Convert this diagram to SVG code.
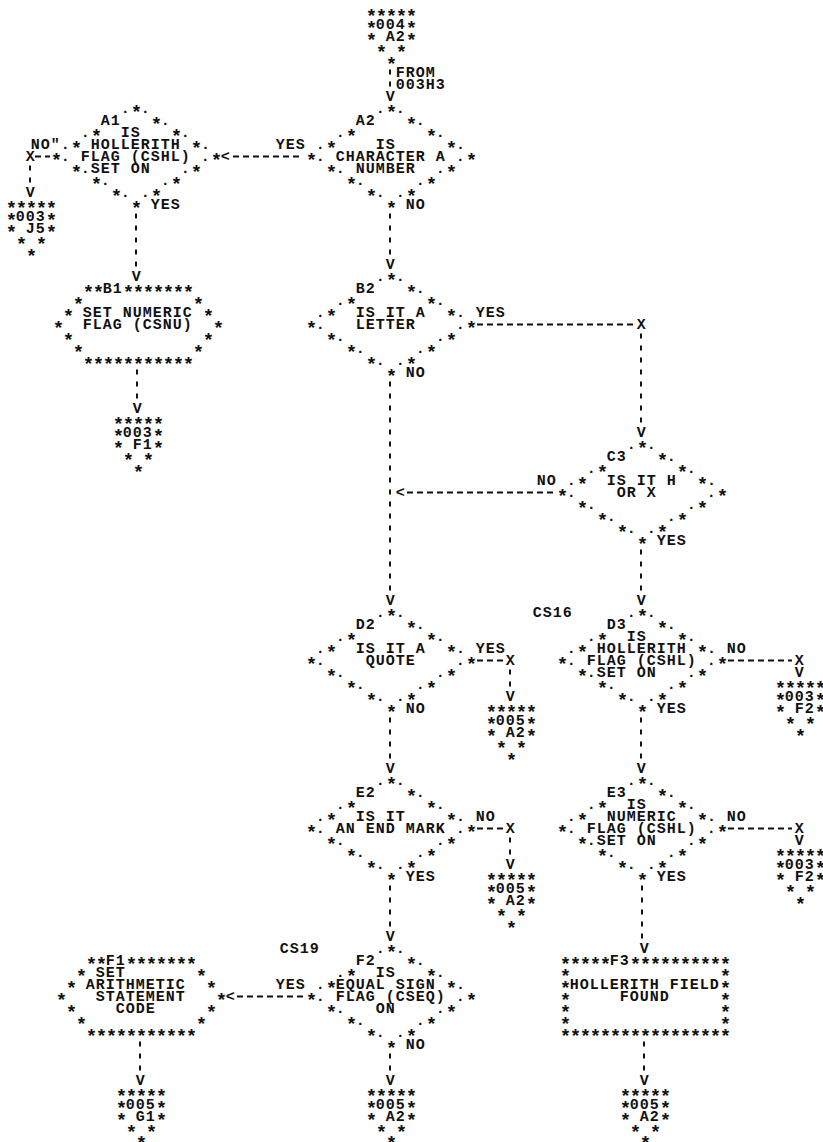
<svg xmlns="http://www.w3.org/2000/svg" width="823" height="1142" viewBox="0 0 823 1142">
<style>
text{font-family:"Liberation Mono","DejaVu Sans Mono",monospace;font-size:15px;font-weight:bold;letter-spacing:1px;fill:#111;white-space:pre}
.s{font-size:19px;letter-spacing:-1.4px;baseline-shift:-5px}
.k{stroke:#111;stroke-width:2;fill:none}
.v{stroke-dasharray:5 7}
.h{stroke-dasharray:6 4}
</style>
<rect width="823" height="1142" fill="#fff"/>
<g id="conn-004-A2">
<text x="365.8" y="17"><tspan class="s">*****</tspan></text>
<text x="365.8" y="29"><tspan class="s">*</tspan>004<tspan class="s">*</tspan></text>
<text x="365.8" y="41"><tspan class="s">*</tspan>&#160;A2<tspan class="s">*</tspan></text>
<text x="365.8" y="53">&#160;<tspan class="s">*</tspan>&#160;<tspan class="s">*</tspan></text>
<text x="365.8" y="65">&#160;&#160;<tspan class="s">*</tspan></text>
</g>
<g id="A1">
<text x="50.8" y="113">&#160;&#160;&#160;&#160;&#160;&#160;&#160;.<tspan class="s">*</tspan>.</text>
<text x="50.8" y="125">&#160;&#160;&#160;&#160;&#160;A1&#160;&#160;&#160;<tspan class="s">*</tspan>.</text>
<text x="50.8" y="137">&#160;&#160;&#160;.<tspan class="s">*</tspan>&#160;&#160;IS&#160;&#160;&#160;<tspan class="s">*</tspan>.</text>
<text x="50.8" y="149">&#160;.<tspan class="s">*</tspan>&#160;HOLLERITH&#160;<tspan class="s">*</tspan>.</text>
<text x="50.8" y="161"><tspan class="s">*</tspan>.&#160;FLAG&#160;(CSHL)&#160;.<tspan class="s">*</tspan></text>
<text x="50.8" y="173">&#160;&#160;<tspan class="s">*</tspan>.SET&#160;ON&#160;&#160;&#160;.<tspan class="s">*</tspan></text>
<text x="50.8" y="185">&#160;&#160;&#160;&#160;<tspan class="s">*</tspan>.&#160;&#160;&#160;&#160;&#160;.<tspan class="s">*</tspan></text>
<text x="50.8" y="197">&#160;&#160;&#160;&#160;&#160;&#160;<tspan class="s">*</tspan>.&#160;.<tspan class="s">*</tspan></text>
<text x="50.8" y="209">&#160;&#160;&#160;&#160;&#160;&#160;&#160;&#160;<tspan class="s">*</tspan></text>
</g>
<g id="conn-003-J5">
<text x="5.8" y="209"><tspan class="s">*****</tspan></text>
<text x="5.8" y="221"><tspan class="s">*</tspan>003<tspan class="s">*</tspan></text>
<text x="5.8" y="233"><tspan class="s">*</tspan>&#160;J5<tspan class="s">*</tspan></text>
<text x="5.8" y="245">&#160;<tspan class="s">*</tspan>&#160;<tspan class="s">*</tspan></text>
<text x="5.8" y="257">&#160;&#160;<tspan class="s">*</tspan></text>
</g>
<g id="A2">
<text x="305.8" y="113">&#160;&#160;&#160;&#160;&#160;&#160;&#160;.<tspan class="s">*</tspan>.</text>
<text x="305.8" y="125">&#160;&#160;&#160;&#160;&#160;A2&#160;&#160;&#160;<tspan class="s">*</tspan>.</text>
<text x="305.8" y="137">&#160;&#160;&#160;.<tspan class="s">*</tspan>&#160;&#160;&#160;&#160;&#160;&#160;&#160;<tspan class="s">*</tspan>.</text>
<text x="305.8" y="149">&#160;.<tspan class="s">*</tspan>&#160;&#160;&#160;&#160;IS&#160;&#160;&#160;&#160;&#160;<tspan class="s">*</tspan>.</text>
<text x="305.8" y="161"><tspan class="s">*</tspan>.&#160;CHARACTER&#160;A&#160;.<tspan class="s">*</tspan></text>
<text x="305.8" y="173">&#160;&#160;<tspan class="s">*</tspan>.&#160;NUMBER&#160;&#160;.<tspan class="s">*</tspan></text>
<text x="305.8" y="185">&#160;&#160;&#160;&#160;<tspan class="s">*</tspan>.&#160;&#160;&#160;&#160;&#160;.<tspan class="s">*</tspan></text>
<text x="305.8" y="197">&#160;&#160;&#160;&#160;&#160;&#160;<tspan class="s">*</tspan>.&#160;.<tspan class="s">*</tspan></text>
<text x="305.8" y="209">&#160;&#160;&#160;&#160;&#160;&#160;&#160;&#160;<tspan class="s">*</tspan></text>
</g>
<g id="B1">
<text x="52.8" y="293">&#160;&#160;&#160;<tspan class="s">**</tspan>B1<tspan class="s">*******</tspan></text>
<text x="52.8" y="305">&#160;&#160;<tspan class="s">*</tspan>&#160;&#160;&#160;&#160;&#160;&#160;&#160;&#160;&#160;&#160;&#160;<tspan class="s">*</tspan></text>
<text x="52.8" y="317">&#160;<tspan class="s">*</tspan>&#160;SET&#160;NUMERIC&#160;<tspan class="s">*</tspan></text>
<text x="52.8" y="329"><tspan class="s">*</tspan>&#160;&#160;FLAG&#160;(CSNU)&#160;&#160;<tspan class="s">*</tspan></text>
<text x="52.8" y="341">&#160;<tspan class="s">*</tspan>&#160;&#160;&#160;&#160;&#160;&#160;&#160;&#160;&#160;&#160;&#160;&#160;&#160;<tspan class="s">*</tspan></text>
<text x="52.8" y="353">&#160;&#160;<tspan class="s">*</tspan>&#160;&#160;&#160;&#160;&#160;&#160;&#160;&#160;&#160;&#160;&#160;<tspan class="s">*</tspan></text>
<text x="52.8" y="365">&#160;&#160;&#160;<tspan class="s">***********</tspan></text>
</g>
<g id="conn-003-F1">
<text x="112.8" y="425"><tspan class="s">*****</tspan></text>
<text x="112.8" y="437"><tspan class="s">*</tspan>003<tspan class="s">*</tspan></text>
<text x="112.8" y="449"><tspan class="s">*</tspan>&#160;F1<tspan class="s">*</tspan></text>
<text x="112.8" y="461">&#160;<tspan class="s">*</tspan>&#160;<tspan class="s">*</tspan></text>
<text x="112.8" y="473">&#160;&#160;<tspan class="s">*</tspan></text>
</g>
<g id="B2">
<text x="305.8" y="281">&#160;&#160;&#160;&#160;&#160;&#160;&#160;.<tspan class="s">*</tspan>.</text>
<text x="305.8" y="293">&#160;&#160;&#160;&#160;&#160;B2&#160;&#160;&#160;<tspan class="s">*</tspan>.</text>
<text x="305.8" y="305">&#160;&#160;&#160;.<tspan class="s">*</tspan>&#160;&#160;&#160;&#160;&#160;&#160;&#160;<tspan class="s">*</tspan>.</text>
<text x="305.8" y="317">&#160;.<tspan class="s">*</tspan>&#160;&#160;IS&#160;IT&#160;A&#160;&#160;<tspan class="s">*</tspan>.</text>
<text x="305.8" y="329"><tspan class="s">*</tspan>.&#160;&#160;&#160;LETTER&#160;&#160;&#160;&#160;.<tspan class="s">*</tspan></text>
<text x="305.8" y="341">&#160;&#160;<tspan class="s">*</tspan>.&#160;&#160;&#160;&#160;&#160;&#160;&#160;&#160;&#160;.<tspan class="s">*</tspan></text>
<text x="305.8" y="353">&#160;&#160;&#160;&#160;<tspan class="s">*</tspan>.&#160;&#160;&#160;&#160;&#160;.<tspan class="s">*</tspan></text>
<text x="305.8" y="365">&#160;&#160;&#160;&#160;&#160;&#160;<tspan class="s">*</tspan>.&#160;.<tspan class="s">*</tspan></text>
<text x="305.8" y="377">&#160;&#160;&#160;&#160;&#160;&#160;&#160;&#160;<tspan class="s">*</tspan></text>
</g>
<g id="C3">
<text x="556.8" y="449">&#160;&#160;&#160;&#160;&#160;&#160;&#160;.<tspan class="s">*</tspan>.</text>
<text x="556.8" y="461">&#160;&#160;&#160;&#160;&#160;C3&#160;&#160;&#160;<tspan class="s">*</tspan>.</text>
<text x="556.8" y="473">&#160;&#160;&#160;.<tspan class="s">*</tspan>&#160;&#160;&#160;&#160;&#160;&#160;&#160;<tspan class="s">*</tspan>.</text>
<text x="556.8" y="485">&#160;.<tspan class="s">*</tspan>&#160;&#160;IS&#160;IT&#160;H&#160;&#160;<tspan class="s">*</tspan>.</text>
<text x="556.8" y="497"><tspan class="s">*</tspan>.&#160;&#160;&#160;&#160;OR&#160;X&#160;&#160;&#160;&#160;&#160;.<tspan class="s">*</tspan></text>
<text x="556.8" y="509">&#160;&#160;<tspan class="s">*</tspan>.&#160;&#160;&#160;&#160;&#160;&#160;&#160;&#160;&#160;.<tspan class="s">*</tspan></text>
<text x="556.8" y="521">&#160;&#160;&#160;&#160;<tspan class="s">*</tspan>.&#160;&#160;&#160;&#160;&#160;.<tspan class="s">*</tspan></text>
<text x="556.8" y="533">&#160;&#160;&#160;&#160;&#160;&#160;<tspan class="s">*</tspan>.&#160;.<tspan class="s">*</tspan></text>
<text x="556.8" y="545">&#160;&#160;&#160;&#160;&#160;&#160;&#160;&#160;<tspan class="s">*</tspan></text>
</g>
<g id="D2">
<text x="305.8" y="617">&#160;&#160;&#160;&#160;&#160;&#160;&#160;.<tspan class="s">*</tspan>.</text>
<text x="305.8" y="629">&#160;&#160;&#160;&#160;&#160;D2&#160;&#160;&#160;<tspan class="s">*</tspan>.</text>
<text x="305.8" y="641">&#160;&#160;&#160;.<tspan class="s">*</tspan>&#160;&#160;&#160;&#160;&#160;&#160;&#160;<tspan class="s">*</tspan>.</text>
<text x="305.8" y="653">&#160;.<tspan class="s">*</tspan>&#160;&#160;IS&#160;IT&#160;A&#160;&#160;<tspan class="s">*</tspan>.</text>
<text x="305.8" y="665"><tspan class="s">*</tspan>.&#160;&#160;&#160;&#160;QUOTE&#160;&#160;&#160;&#160;.<tspan class="s">*</tspan></text>
<text x="305.8" y="677">&#160;&#160;<tspan class="s">*</tspan>.&#160;&#160;&#160;&#160;&#160;&#160;&#160;&#160;&#160;.<tspan class="s">*</tspan></text>
<text x="305.8" y="689">&#160;&#160;&#160;&#160;<tspan class="s">*</tspan>.&#160;&#160;&#160;&#160;&#160;.<tspan class="s">*</tspan></text>
<text x="305.8" y="701">&#160;&#160;&#160;&#160;&#160;&#160;<tspan class="s">*</tspan>.&#160;.<tspan class="s">*</tspan></text>
<text x="305.8" y="713">&#160;&#160;&#160;&#160;&#160;&#160;&#160;&#160;<tspan class="s">*</tspan></text>
</g>
<g id="conn-005-A2-d">
<text x="485.8" y="713"><tspan class="s">*****</tspan></text>
<text x="485.8" y="725"><tspan class="s">*</tspan>005<tspan class="s">*</tspan></text>
<text x="485.8" y="737"><tspan class="s">*</tspan>&#160;A2<tspan class="s">*</tspan></text>
<text x="485.8" y="749">&#160;<tspan class="s">*</tspan>&#160;<tspan class="s">*</tspan></text>
<text x="485.8" y="761">&#160;&#160;<tspan class="s">*</tspan></text>
</g>
<g id="D3">
<text x="532.8" y="617">CS16</text>
<text x="556.8" y="617">&#160;&#160;&#160;&#160;&#160;&#160;&#160;.<tspan class="s">*</tspan>.</text>
<text x="556.8" y="629">&#160;&#160;&#160;&#160;&#160;D3&#160;&#160;&#160;<tspan class="s">*</tspan>.</text>
<text x="556.8" y="641">&#160;&#160;&#160;.<tspan class="s">*</tspan>&#160;&#160;IS&#160;&#160;&#160;<tspan class="s">*</tspan>.</text>
<text x="556.8" y="653">&#160;.<tspan class="s">*</tspan>&#160;HOLLERITH&#160;<tspan class="s">*</tspan>.</text>
<text x="556.8" y="665"><tspan class="s">*</tspan>.&#160;FLAG&#160;(CSHL)&#160;.<tspan class="s">*</tspan></text>
<text x="556.8" y="677">&#160;&#160;<tspan class="s">*</tspan>.SET&#160;ON&#160;&#160;&#160;.<tspan class="s">*</tspan></text>
<text x="556.8" y="689">&#160;&#160;&#160;&#160;<tspan class="s">*</tspan>.&#160;&#160;&#160;&#160;&#160;.<tspan class="s">*</tspan></text>
<text x="556.8" y="701">&#160;&#160;&#160;&#160;&#160;&#160;<tspan class="s">*</tspan>.&#160;.<tspan class="s">*</tspan></text>
<text x="556.8" y="713">&#160;&#160;&#160;&#160;&#160;&#160;&#160;&#160;<tspan class="s">*</tspan></text>
</g>
<g id="conn-003-F2-d">
<text x="774.8" y="689"><tspan class="s">*****</tspan></text>
<text x="774.8" y="701"><tspan class="s">*</tspan>003<tspan class="s">*</tspan></text>
<text x="774.8" y="713"><tspan class="s">*</tspan>&#160;F2<tspan class="s">*</tspan></text>
<text x="774.8" y="725">&#160;<tspan class="s">*</tspan>&#160;<tspan class="s">*</tspan></text>
<text x="774.8" y="737">&#160;&#160;<tspan class="s">*</tspan></text>
</g>
<g id="E2">
<text x="305.8" y="785">&#160;&#160;&#160;&#160;&#160;&#160;&#160;.<tspan class="s">*</tspan>.</text>
<text x="305.8" y="797">&#160;&#160;&#160;&#160;&#160;E2&#160;&#160;&#160;<tspan class="s">*</tspan>.</text>
<text x="305.8" y="809">&#160;&#160;&#160;.<tspan class="s">*</tspan>&#160;&#160;&#160;&#160;&#160;&#160;&#160;<tspan class="s">*</tspan>.</text>
<text x="305.8" y="821">&#160;.<tspan class="s">*</tspan>&#160;&#160;IS&#160;IT&#160;&#160;&#160;&#160;<tspan class="s">*</tspan>.</text>
<text x="305.8" y="833"><tspan class="s">*</tspan>.&#160;AN&#160;END&#160;MARK&#160;.<tspan class="s">*</tspan></text>
<text x="305.8" y="845">&#160;&#160;<tspan class="s">*</tspan>.&#160;&#160;&#160;&#160;&#160;&#160;&#160;&#160;&#160;.<tspan class="s">*</tspan></text>
<text x="305.8" y="857">&#160;&#160;&#160;&#160;<tspan class="s">*</tspan>.&#160;&#160;&#160;&#160;&#160;.<tspan class="s">*</tspan></text>
<text x="305.8" y="869">&#160;&#160;&#160;&#160;&#160;&#160;<tspan class="s">*</tspan>.&#160;.<tspan class="s">*</tspan></text>
<text x="305.8" y="881">&#160;&#160;&#160;&#160;&#160;&#160;&#160;&#160;<tspan class="s">*</tspan></text>
</g>
<g id="conn-005-A2-e">
<text x="485.8" y="881"><tspan class="s">*****</tspan></text>
<text x="485.8" y="893"><tspan class="s">*</tspan>005<tspan class="s">*</tspan></text>
<text x="485.8" y="905"><tspan class="s">*</tspan>&#160;A2<tspan class="s">*</tspan></text>
<text x="485.8" y="917">&#160;<tspan class="s">*</tspan>&#160;<tspan class="s">*</tspan></text>
<text x="485.8" y="929">&#160;&#160;<tspan class="s">*</tspan></text>
</g>
<g id="E3">
<text x="556.8" y="785">&#160;&#160;&#160;&#160;&#160;&#160;&#160;.<tspan class="s">*</tspan>.</text>
<text x="556.8" y="797">&#160;&#160;&#160;&#160;&#160;E3&#160;&#160;&#160;<tspan class="s">*</tspan>.</text>
<text x="556.8" y="809">&#160;&#160;&#160;.<tspan class="s">*</tspan>&#160;&#160;IS&#160;&#160;&#160;<tspan class="s">*</tspan>.</text>
<text x="556.8" y="821">&#160;.<tspan class="s">*</tspan>&#160;&#160;NUMERIC&#160;&#160;<tspan class="s">*</tspan>.</text>
<text x="556.8" y="833"><tspan class="s">*</tspan>.&#160;FLAG&#160;(CSHL)&#160;.<tspan class="s">*</tspan></text>
<text x="556.8" y="845">&#160;&#160;<tspan class="s">*</tspan>.SET&#160;ON&#160;&#160;&#160;.<tspan class="s">*</tspan></text>
<text x="556.8" y="857">&#160;&#160;&#160;&#160;<tspan class="s">*</tspan>.&#160;&#160;&#160;&#160;&#160;.<tspan class="s">*</tspan></text>
<text x="556.8" y="869">&#160;&#160;&#160;&#160;&#160;&#160;<tspan class="s">*</tspan>.&#160;.<tspan class="s">*</tspan></text>
<text x="556.8" y="881">&#160;&#160;&#160;&#160;&#160;&#160;&#160;&#160;<tspan class="s">*</tspan></text>
</g>
<g id="conn-003-F2-e">
<text x="774.8" y="857"><tspan class="s">*****</tspan></text>
<text x="774.8" y="869"><tspan class="s">*</tspan>003<tspan class="s">*</tspan></text>
<text x="774.8" y="881"><tspan class="s">*</tspan>&#160;F2<tspan class="s">*</tspan></text>
<text x="774.8" y="893">&#160;<tspan class="s">*</tspan>&#160;<tspan class="s">*</tspan></text>
<text x="774.8" y="905">&#160;&#160;<tspan class="s">*</tspan></text>
</g>
<g id="F1">
<text x="55.8" y="965">&#160;&#160;&#160;<tspan class="s">**</tspan>F1<tspan class="s">*******</tspan></text>
<text x="55.8" y="977">&#160;&#160;<tspan class="s">*</tspan>&#160;SET&#160;&#160;&#160;&#160;&#160;&#160;&#160;<tspan class="s">*</tspan></text>
<text x="55.8" y="989">&#160;<tspan class="s">*</tspan>&#160;ARITHMETIC&#160;&#160;<tspan class="s">*</tspan></text>
<text x="55.8" y="1001"><tspan class="s">*</tspan>&#160;&#160;&#160;STATEMENT&#160;&#160;&#160;<tspan class="s">*</tspan></text>
<text x="55.8" y="1013">&#160;<tspan class="s">*</tspan>&#160;&#160;&#160;&#160;CODE&#160;&#160;&#160;&#160;&#160;<tspan class="s">*</tspan></text>
<text x="55.8" y="1025">&#160;&#160;<tspan class="s">*</tspan>&#160;&#160;&#160;&#160;&#160;&#160;&#160;&#160;&#160;&#160;&#160;<tspan class="s">*</tspan></text>
<text x="55.8" y="1037">&#160;&#160;&#160;<tspan class="s">***********</tspan></text>
</g>
<g id="F2">
<text x="279.8" y="953">CS19</text>
<text x="305.8" y="953">&#160;&#160;&#160;&#160;&#160;&#160;&#160;.<tspan class="s">*</tspan>.</text>
<text x="305.8" y="965">&#160;&#160;&#160;&#160;&#160;F2&#160;&#160;&#160;<tspan class="s">*</tspan>.</text>
<text x="305.8" y="977">&#160;&#160;&#160;.<tspan class="s">*</tspan>&#160;&#160;IS&#160;&#160;&#160;<tspan class="s">*</tspan>.</text>
<text x="305.8" y="989">&#160;.<tspan class="s">*</tspan>EQUAL&#160;SIGN&#160;<tspan class="s">*</tspan>.</text>
<text x="305.8" y="1001"><tspan class="s">*</tspan>.&#160;FLAG&#160;(CSEQ)&#160;.<tspan class="s">*</tspan></text>
<text x="305.8" y="1013">&#160;&#160;<tspan class="s">*</tspan>.&#160;&#160;&#160;ON&#160;&#160;&#160;&#160;.<tspan class="s">*</tspan></text>
<text x="305.8" y="1025">&#160;&#160;&#160;&#160;<tspan class="s">*</tspan>.&#160;&#160;&#160;&#160;&#160;.<tspan class="s">*</tspan></text>
<text x="305.8" y="1037">&#160;&#160;&#160;&#160;&#160;&#160;<tspan class="s">*</tspan>.&#160;.<tspan class="s">*</tspan></text>
<text x="305.8" y="1049">&#160;&#160;&#160;&#160;&#160;&#160;&#160;&#160;<tspan class="s">*</tspan></text>
</g>
<g id="F3">
<text x="559.8" y="965"><tspan class="s">*****</tspan>F3<tspan class="s">**********</tspan></text>
<text x="559.8" y="977"><tspan class="s">*</tspan>&#160;&#160;&#160;&#160;&#160;&#160;&#160;&#160;&#160;&#160;&#160;&#160;&#160;&#160;&#160;<tspan class="s">*</tspan></text>
<text x="559.8" y="989"><tspan class="s">*</tspan>HOLLERITH&#160;FIELD<tspan class="s">*</tspan></text>
<text x="559.8" y="1001"><tspan class="s">*</tspan>&#160;&#160;&#160;&#160;&#160;FOUND&#160;&#160;&#160;&#160;&#160;<tspan class="s">*</tspan></text>
<text x="559.8" y="1013"><tspan class="s">*</tspan>&#160;&#160;&#160;&#160;&#160;&#160;&#160;&#160;&#160;&#160;&#160;&#160;&#160;&#160;&#160;<tspan class="s">*</tspan></text>
<text x="559.8" y="1025"><tspan class="s">*</tspan>&#160;&#160;&#160;&#160;&#160;&#160;&#160;&#160;&#160;&#160;&#160;&#160;&#160;&#160;&#160;<tspan class="s">*</tspan></text>
<text x="559.8" y="1037"><tspan class="s">*****************</tspan></text>
</g>
<g id="conn-005-G1">
<text x="115.8" y="1097"><tspan class="s">*****</tspan></text>
<text x="115.8" y="1109"><tspan class="s">*</tspan>005<tspan class="s">*</tspan></text>
<text x="115.8" y="1121"><tspan class="s">*</tspan>&#160;G1<tspan class="s">*</tspan></text>
<text x="115.8" y="1133">&#160;<tspan class="s">*</tspan>&#160;<tspan class="s">*</tspan></text>
<text x="115.8" y="1144">&#160;&#160;<tspan class="s">*</tspan></text>
</g>
<g id="conn-005-A2-f">
<text x="365.8" y="1097"><tspan class="s">*****</tspan></text>
<text x="365.8" y="1109"><tspan class="s">*</tspan>005<tspan class="s">*</tspan></text>
<text x="365.8" y="1121"><tspan class="s">*</tspan>&#160;A2<tspan class="s">*</tspan></text>
<text x="365.8" y="1133">&#160;<tspan class="s">*</tspan>&#160;<tspan class="s">*</tspan></text>
<text x="365.8" y="1144">&#160;&#160;<tspan class="s">*</tspan></text>
</g>
<g id="conn-005-A2-g">
<text x="619.8" y="1097"><tspan class="s">*****</tspan></text>
<text x="619.8" y="1109"><tspan class="s">*</tspan>005<tspan class="s">*</tspan></text>
<text x="619.8" y="1121"><tspan class="s">*</tspan>&#160;A2<tspan class="s">*</tspan></text>
<text x="619.8" y="1133">&#160;<tspan class="s">*</tspan>&#160;<tspan class="s">*</tspan></text>
<text x="619.8" y="1144">&#160;&#160;<tspan class="s">*</tspan></text>
</g>
<g id="connectors">
<g class="k v">
<line x1="390" y1="69.5" x2="390" y2="86.5"/>
<line x1="390" y1="213.5" x2="390" y2="254.5"/>
<line x1="390" y1="381.5" x2="390" y2="590.5"/>
<line x1="390" y1="717.5" x2="390" y2="758.5"/>
<line x1="390" y1="885.5" x2="390" y2="926.5"/>
<line x1="390" y1="1053.5" x2="390" y2="1070.5"/>
<line x1="30" y1="165.5" x2="30" y2="182.5"/>
<line x1="136" y1="213.5" x2="136" y2="266.5"/>
<line x1="137" y1="369.5" x2="137" y2="398.5"/>
<line x1="140" y1="1041.5" x2="140" y2="1070.5"/>
<line x1="641" y1="333.5" x2="641" y2="422.5"/>
<line x1="641" y1="549.5" x2="641" y2="590.5"/>
<line x1="641" y1="717.5" x2="641" y2="758.5"/>
<line x1="642" y1="885.5" x2="642" y2="938.5"/>
<line x1="644" y1="1041.5" x2="644" y2="1070.5"/>
<line x1="510" y1="669.5" x2="510" y2="686.5"/>
<line x1="510" y1="837.5" x2="510" y2="854.5"/>
</g>
<g class="k h">
<line x1="35" y1="156.5" x2="50" y2="156.5"/>
<line x1="233" y1="156.5" x2="302" y2="156.5"/>
<line x1="477" y1="324.5" x2="634" y2="324.5"/>
<line x1="407" y1="492.5" x2="554" y2="492.5"/>
<line x1="477" y1="660.5" x2="503" y2="660.5"/>
<line x1="728" y1="660.5" x2="792" y2="660.5"/>
<line x1="477" y1="828.5" x2="503" y2="828.5"/>
<line x1="728" y1="828.5" x2="792" y2="828.5"/>
<line x1="237" y1="996.5" x2="303" y2="996.5"/>
</g>
<text x="395.8" y="77">FROM</text>
<text x="395.8" y="89">003H3</text>
<text x="385.8" y="101">V</text>
<text x="385.8" y="269">V</text>
<text x="385.8" y="605">V</text>
<text x="385.8" y="773">V</text>
<text x="385.8" y="941">V</text>
<text x="385.8" y="1085">V</text>
<text x="25.8" y="197">V</text>
<text x="131.8" y="281">V</text>
<text x="132.8" y="413">V</text>
<text x="135.8" y="1085">V</text>
<text x="636.8" y="437">V</text>
<text x="636.8" y="605">V</text>
<text x="636.8" y="773">V</text>
<text x="639.8" y="953">V</text>
<text x="639.8" y="1085">V</text>
<text x="794.8" y="677">V</text>
<text x="794.8" y="845">V</text>
<text x="505.8" y="701">V</text>
<text x="505.8" y="869">V</text>
<text x="25.8" y="161">X</text>
<text x="636.8" y="329">X</text>
<text x="505.8" y="665">X</text>
<text x="794.8" y="665">X</text>
<text x="505.8" y="833">X</text>
<text x="794.8" y="833">X</text>
<text x="220.8" y="161">&lt;</text>
<text x="395.8" y="497">&lt;</text>
<text x="225.8" y="1001">&lt;</text>
<text x="275.8" y="149">YES</text>
<text x="405.8" y="209">NO</text>
<text x="30.8" y="149">NO"</text>
<text x="150.8" y="209">YES</text>
<text x="475.8" y="317">YES</text>
<text x="405.8" y="377">NO</text>
<text x="536.8" y="485">NO</text>
<text x="656.8" y="545">YES</text>
<text x="475.8" y="653">YES</text>
<text x="405.8" y="713">NO</text>
<text x="726.8" y="653">NO</text>
<text x="656.8" y="713">YES</text>
<text x="475.8" y="821">NO</text>
<text x="405.8" y="881">YES</text>
<text x="726.8" y="821">NO</text>
<text x="656.8" y="881">YES</text>
<text x="275.8" y="989">YES</text>
<text x="405.8" y="1049">NO</text>
</g>
</svg>
